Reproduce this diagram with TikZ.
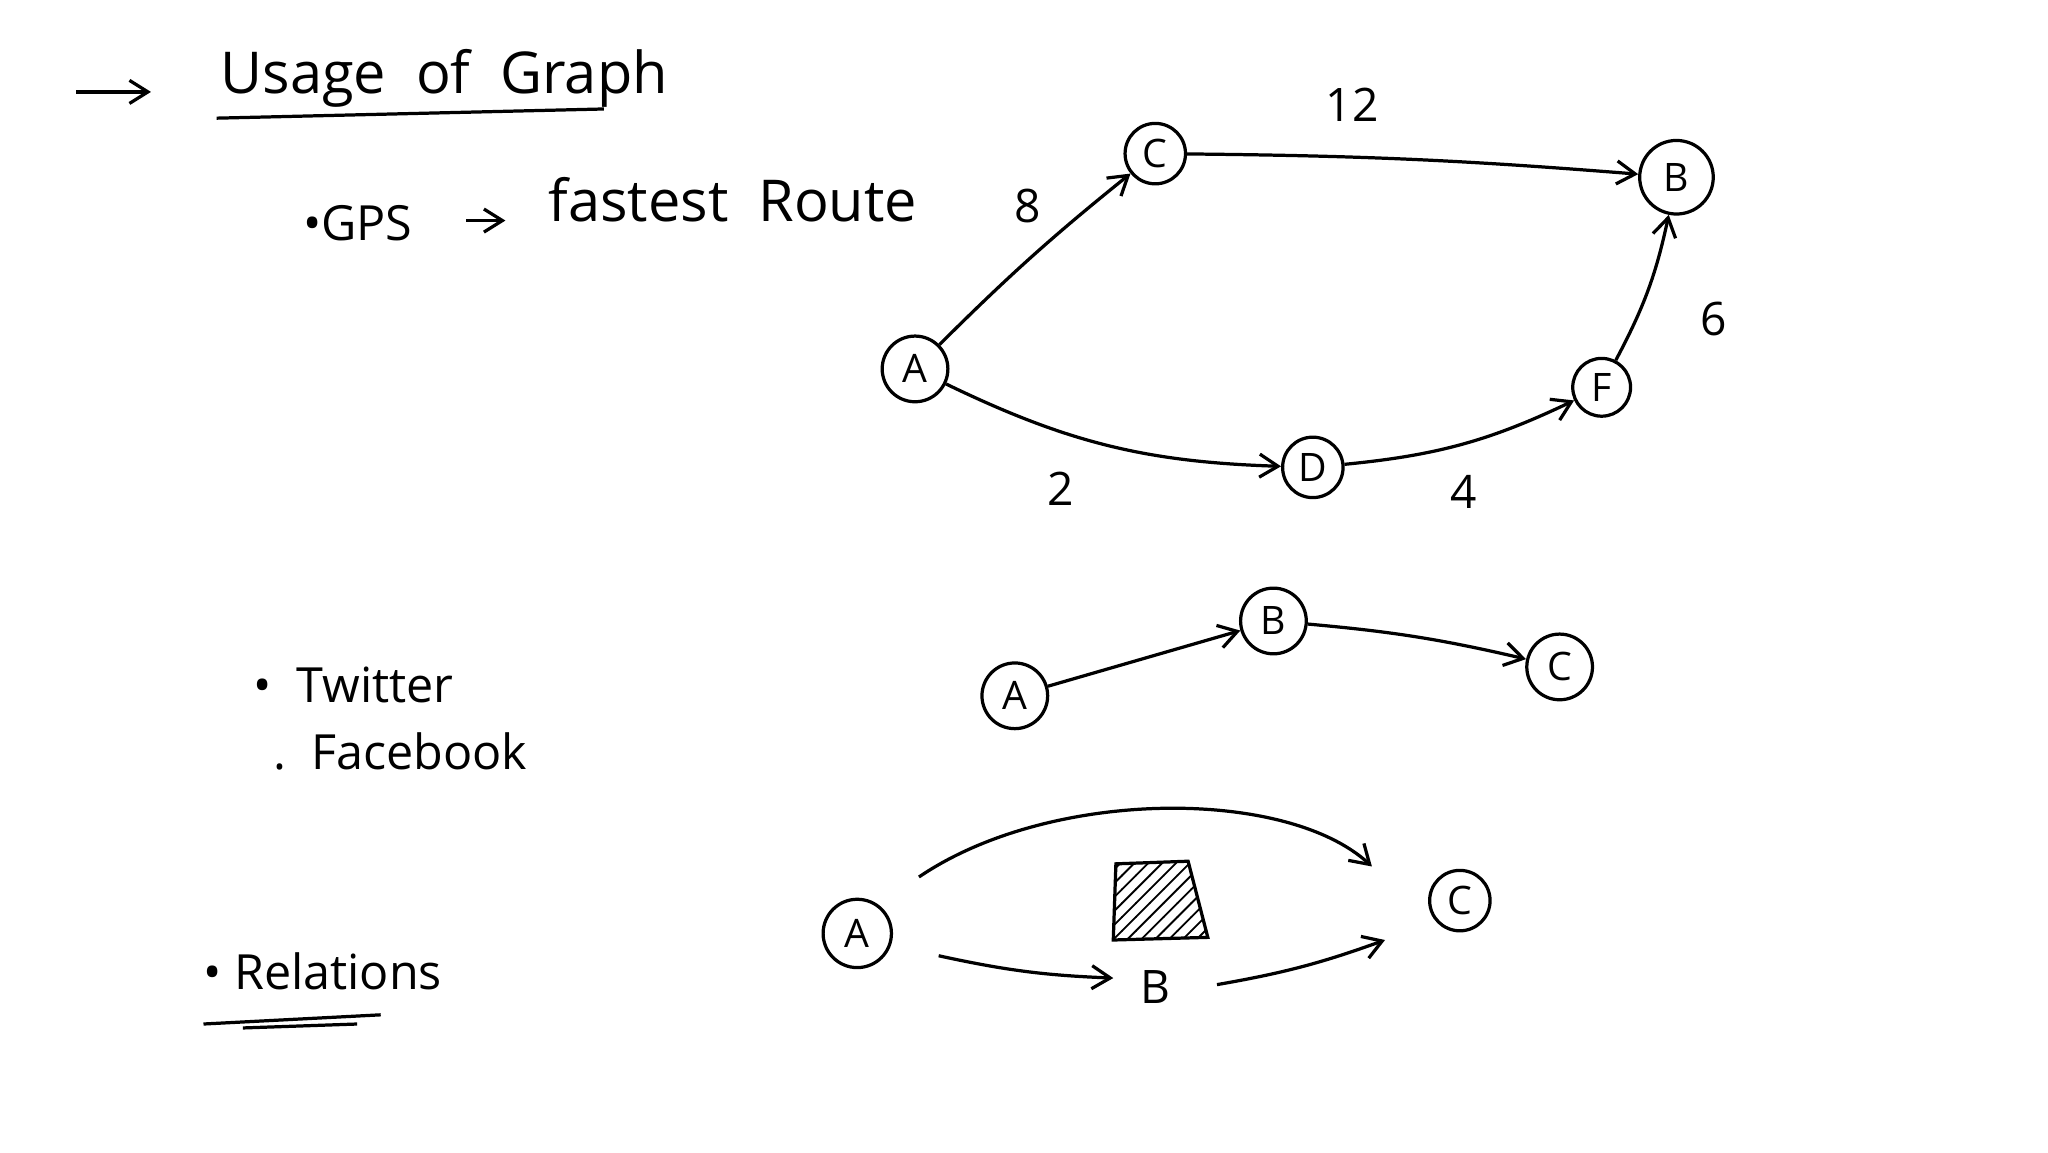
\documentclass[tikz,border=0pt]{standalone}
\usepackage{fontspec}
\setmainfont{Open Sans}
\usetikzlibrary{arrows.meta,patterns}
\begin{document}
\begin{tikzpicture}[x=0.01cm,y=-0.01cm,
  every path/.style={line width=0.7pt},
  v/.style={circle,draw,minimum size=#1*0.02cm,inner sep=0pt,font=\fontsize{8.5}{9}\selectfont},
  lbl/.style={font=\fontsize{10}{10}\selectfont},
  txt/.style={font=\fontsize{10.5}{11}\selectfont,anchor=west},
  big/.style={font=\fontsize{12.5}{13}\selectfont,anchor=west},
  arr/.style={-{Straight Barb[length=4pt,width=5pt]}}]
\useasboundingbox (0,0) rectangle (1560,878);
% heading
\coordinate (h1) at (58,70); \coordinate (h2) at (115,70);
\draw[arr] (h1) -- (h2);
\node[big] (title) at (155,60) {Usage\ \ of\ \ Graph};
\coordinate (u1) at (165,90); \coordinate (u2) at (460,83);
\draw (u1) -- (u2);
\node[txt] (gps) at (218,170) {•GPS};
\coordinate (g1) at (355,168); \coordinate (g2) at (385,168);
\draw[arr] (g1) -- (g2);
\node[big] (fr) at (405,152) {fastest\ \ Route};
% graph 1
\node[v=25] (A) at (697,281) {A};
\node[v=23] (C) at (880,117) {C};
\node[v=28] (B) at (1277,135) {B};
\node[v=23] (D) at (1000,356) {D};
\node[v=22] (F) at (1220,295) {F};
\draw[arr] (A) to[bend left=3] (C);
\draw[arr] (C) to[bend left=2] (B);
\draw[arr] (A) to[bend right=12] (D);
\draw[arr] (D) to[bend left=-10] (F);
\draw[arr] (F) to[bend left=-8] (B);
\node[lbl] (w8) at (783,157) {8};
\node[lbl] (w12) at (1030,80) {12};
\node[lbl] (w6) at (1305,243) {6};
\node[lbl] (w2) at (808,372) {2};
\node[lbl] (w4) at (1115,375) {4};
% graph 2
\node[v=25] (A2) at (773,530) {A};
\node[v=25] (B2) at (970,473) {B};
\node[v=25] (C2) at (1188,508) {C};
\draw[arr] (A2) -- (B2);
\draw[arr] (B2) to[bend left=4] (C2);
\node[txt] (tw) at (180,522) {•\ \ Twitter};
\node[txt] (fb) at (195,572) {.\ \ Facebook};
% graph 3
\node[v=26] (A3) at (653,711) {A};
\node[v=23] (C3) at (1112,686) {C};
\node[lbl] (B3) at (880,752) {B};
\coordinate (a1) at (700,668); \coordinate (a2) at (1045,660);
\draw[arr] (a1) .. controls (800,600) and (980,600) .. (a2);
\coordinate (b1) at (715,728); \coordinate (b2) at (848,745);
\draw[arr] (b1) to[bend right=5] (b2);
\coordinate (b3) at (927,750); \coordinate (b4) at (1055,716);
\draw[arr] (b3) to[bend right=5] (b4);
\draw[pattern=north east lines] (850,658) -- (905,656) -- (920,714) -- (848,716) -- cycle;
\node[txt] (rel) at (142,740) {•\ Relations};
\coordinate (r1) at (155,780); \coordinate (r2) at (290,773);
\coordinate (r3) at (185,783); \coordinate (r4) at (272,780);
\draw (r1) -- (r2); \draw (r3) -- (r4);
\end{tikzpicture}
\end{document}
